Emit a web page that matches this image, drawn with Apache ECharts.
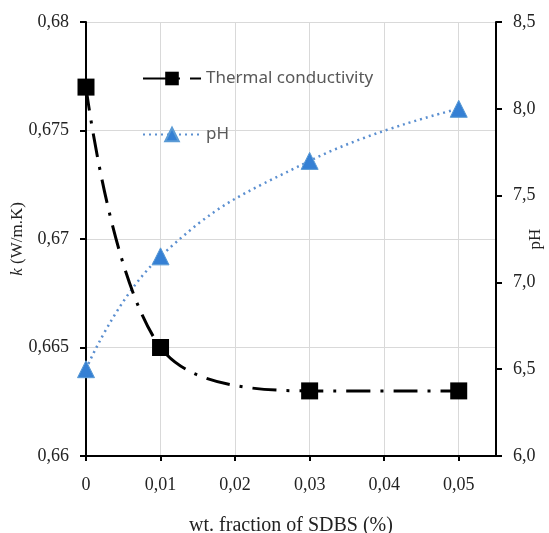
<!DOCTYPE html>
<html>
<head>
<meta charset="utf-8">
<script src="https://cdn.jsdelivr.net/npm/echarts@6/dist/echarts.min.js"></script>
<style>
  html, body { margin: 0; padding: 0; background: #fff; }
  #chart { width: 549px; height: 533px; }
</style>
</head>
<body>
<div id="chart"></div>
<script>
// SDBS weight fraction (%)
const fractions = [0, 0.01, 0.03, 0.05];
// thermal conductivity k (W/m.K)
const conductivity = [0.677, 0.665, 0.663, 0.663];
// pH of the fluid
const phValues = [6.5, 7.15, 7.7, 8.0];
// x axis tick positions
const xTicks = [0, 0.01, 0.02, 0.03, 0.04, 0.05];

const serif = 'Liberation Serif';
const comma = (s) => s.replace('.', ',');

const chart = echarts.init(document.getElementById('chart'), null, { renderer: 'canvas' });

chart.setOption({
  animation: false,
  backgroundColor: '#ffffff',
  grid: { left: 86, right: 53, top: 22, bottom: 77, containLabel: false, outerBoundsMode: 'none' },
  legend: {
    orient: 'vertical',
    left: 137,
    top: 65,
    itemGap: 39,
    itemWidth: 58,
    itemHeight: 17,
    textStyle: { fontFamily: 'Noto Sans', fontSize: 17, color: '#595959' },
    data: ['Thermal conductivity', 'pH']
  },
  xAxis: {
    type: 'value',
    min: 0,
    max: 0.055,
    interval: 0.01,
    name: 'wt. fraction of SDBS (%)',
    nameLocation: 'middle',
    nameGap: 60,
    nameMoveOverlap: false,
    nameTextStyle: { fontFamily: serif, fontSize: 20, color: '#222' },
    axisLine: { show: true, onZero: false, lineStyle: { color: '#000', width: 2 } },
    axisTick: { show: true, length: 5, lineStyle: { color: '#000', width: 2 }, customValues: xTicks },
    axisLabel: {
      fontFamily: serif, fontSize: 18, color: '#222', margin: 20,
      customValues: xTicks,
      formatter: (v) => comma(String(parseFloat(v.toFixed(2))))
    },
    splitLine: { show: true, lineStyle: { color: '#d9d9d9', width: 1 } }
  },
  yAxis: [
    {
      type: 'value',
      min: 0.66,
      max: 0.68,
      interval: 0.005,
      name: '{i|k} (W/m.K)',
      nameLocation: 'middle',
      nameRotate: 90,
      nameGap: 60,
      nameMoveOverlap: false,
      nameTextStyle: {
        fontFamily: serif, fontSize: 17, color: '#222',
        rich: { i: { fontFamily: serif, fontStyle: 'italic', fontSize: 17, color: '#222' } }
      },
      axisLine: { show: true, lineStyle: { color: '#000', width: 2 } },
      axisTick: { show: true, length: 6, lineStyle: { color: '#000', width: 2 } },
      axisLabel: {
        fontFamily: serif, fontSize: 18, color: '#222', margin: 17,
        formatter: (v) => comma(String(parseFloat(v.toFixed(3))))
      },
      splitLine: { show: true, lineStyle: { color: '#d9d9d9', width: 1 } }
    },
    {
      type: 'value',
      position: 'right',
      min: 6,
      max: 8.5,
      interval: 0.5,
      name: 'pH',
      nameLocation: 'middle',
      nameRotate: 90,
      nameGap: 31,
      nameMoveOverlap: false,
      nameTextStyle: { fontFamily: serif, fontSize: 17, color: '#222' },
      axisLine: { show: true, lineStyle: { color: '#000', width: 2 } },
      axisTick: { show: true, length: 6, lineStyle: { color: '#000', width: 2 } },
      axisLabel: {
        fontFamily: serif, fontSize: 18, color: '#222', margin: 17,
        formatter: (v) => comma(v.toFixed(1))
      },
      splitLine: { show: false }
    }
  ],
  series: [
    {
      name: 'Thermal conductivity',
      type: 'line',
      yAxisIndex: 0,
      smooth: 0.35,
      data: fractions.map((x, i) => [x, conductivity[i]]),
      symbol: 'rect',
      symbolSize: 17,
      itemStyle: { color: '#000' },
      lineStyle: { color: '#000', width: 3, type: [24, 10, 3, 10] },
      z: 3
    },
    {
      name: 'pH',
      type: 'line',
      yAxisIndex: 1,
      smooth: 0.45,
      data: fractions.map((x, i) => [x, phValues[i]]),
      symbol: 'triangle',
      symbolSize: 17,
      itemStyle: { color: '#3580d4', borderColor: '#5b9bd5', borderWidth: 1 },
      lineStyle: { color: '#5b8fd0', width: 2.5, type: [2, 4] },
      z: 2
    }
  ]
});
</script>
</body>
</html>
